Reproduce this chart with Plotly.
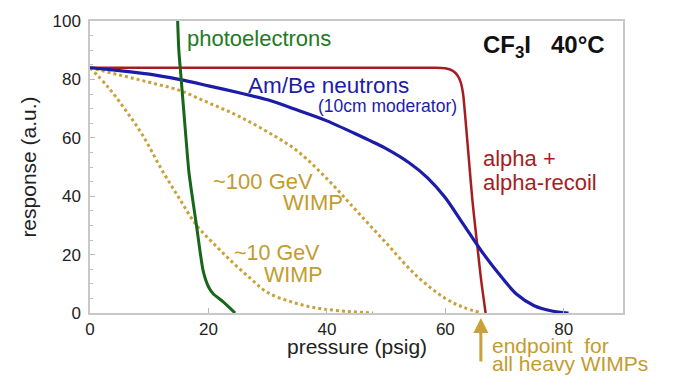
import plotly.graph_objects as go

# Bubble-chamber response vs. operating pressure (CF3I at 40 °C)
pressure_alpha = [0, 58, 60, 61.2, 62, 62.6, 63.0, 63.5, 64.0, 64.6, 65.4, 66.0, 66.8]
response_alpha = [84, 84, 83.8, 83, 81.5, 79, 75, 64, 52, 38, 23, 12, 0]

pressure_neutron = [0, 5, 10, 15, 20, 25, 30, 35, 40, 45, 50, 54, 57, 60, 63, 66, 69, 72, 75, 78, 80.8]
response_neutron = [84, 83, 81.8, 80, 77.8, 75.5, 73, 69.5, 65.8, 61.2, 56.3, 51.3, 46.3, 39.5, 30.5, 21.5, 13.5, 6.5, 2.5, 0.7, 0]

pressure_photo = [14.8, 15.0, 15.4, 16.0, 16.7, 17.4, 18.0, 19.1, 20.0, 20.8, 22.5, 24.5]
response_photo = [100, 90, 80, 65, 48.3, 38, 29.7, 14.5, 9, 6.6, 3.8, 0]

pressure_wimp100 = [0, 5, 10, 15, 20, 25, 30, 35, 40, 45, 50, 55, 60, 63, 66.2]
response_wimp100 = [84, 81.5, 79, 76.3, 72, 67.5, 62, 55.5, 46, 35, 24, 13, 5, 2, 0]

pressure_wimp10 = [0, 3, 6, 9, 12, 15, 18, 21, 24, 27, 30, 34, 38, 42, 47.8]
response_wimp10 = [84, 77.5, 69.5, 60.5, 49.5, 39.5, 30, 23.5, 17.5, 12, 7, 3.8, 1.8, 0.8, 0]

x_ticks = [0, 20, 40, 60, 80]
y_ticks = [0, 20, 40, 60, 80, 100]

RED = "#a51d22"
BLUE = "#1c1ca8"
GREEN = "#17661b"
GOLD = "#c9a13a"
GOLD_TEXT = "#c49b2e"
FONT = "Liberation Sans, Arial, Helvetica, sans-serif"

fig = go.Figure()

fig.add_trace(go.Scatter(x=pressure_wimp100, y=response_wimp100, mode="lines",
                         line=dict(color=GOLD, width=3, dash="dot", shape="spline")))
fig.add_trace(go.Scatter(x=pressure_wimp10, y=response_wimp10, mode="lines",
                         line=dict(color=GOLD, width=3, dash="dot", shape="spline")))
fig.add_trace(go.Scatter(x=pressure_alpha, y=response_alpha, mode="lines",
                         line=dict(color=RED, width=2.5, shape="spline", smoothing=0.6)))
fig.add_trace(go.Scatter(x=pressure_neutron, y=response_neutron, mode="lines",
                         line=dict(color=BLUE, width=3.2, shape="spline", smoothing=0.8)))
fig.add_trace(go.Scatter(x=pressure_photo, y=response_photo, mode="lines",
                         line=dict(color=GREEN, width=3, shape="spline", smoothing=0.6)))


def label(text, x, y, color, size=22, anchor="left", bold=False, yref="y"):
    if bold:
        text = "<b>" + text + "</b>"
    fig.add_annotation(x=x, y=y, xref="x", yref=yref, text=text, showarrow=False,
                       xanchor=anchor, yanchor="middle",
                       font=dict(family=FONT, size=size, color=color))


label("photoelectrons", 16.1, 94.0, "#237a26")
label("Am/Be neutrons", 26.4, 78.0, BLUE, size=22.5)
label("(10cm moderator)", 38.2, 71.0, BLUE, size=17.5)
label("alpha +", 66.1, 53.0, RED)
label("alpha-recoil", 66.1, 44.8, RED)
label("~100 GeV", 20.5, 45.2, GOLD_TEXT, size=22)
label("WIMP", 32.3, 38.0, GOLD_TEXT, size=22)
label("~10 GeV", 24.0, 20.6, GOLD_TEXT, size=21.5)
label("WIMP", 29.0, 13.0, GOLD_TEXT, size=21.5)
label("CF<sub>3</sub>I\u00a0\u00a0\u00a040°C", 76.6, 91.3, "#111111", size=24, anchor="center", bold=True)

# arrow marking the common endpoint of the heavy-WIMP curves (below the axis)
fig.add_annotation(x=66.0, y=-0.017, xref="x", yref="paper", ax=0, ay=45,
                   text="", showarrow=True, arrowhead=2, arrowsize=1.0,
                   arrowwidth=3, arrowcolor=GOLD)
label("endpoint\u00a0\u00a0for", 67.6, -0.112, GOLD_TEXT, size=21, yref="paper")
label("all heavy WIMPs", 67.6, -0.172, GOLD_TEXT, size=21, yref="paper")

# x-axis title placed just under the tick labels
fig.add_annotation(x=0.5, y=-0.115, xref="paper", yref="paper", text="pressure (psig)",
                   showarrow=False, xanchor="center", yanchor="middle",
                   font=dict(family=FONT, size=21, color="#222222"))

fig.update_layout(
    width=681, height=376,
    margin=dict(l=90, r=58, t=17, b=63),
    paper_bgcolor="white", plot_bgcolor="white",
    showlegend=False,
    font=dict(family=FONT, size=17, color="#222222"),
)
fig.update_xaxes(
    range=[0, 90], tickvals=x_ticks, ticks="inside", ticklen=5, tickcolor="#b8b8b8",
    showline=True, mirror=True, linecolor="#c8c8c8", linewidth=1.5,
    showgrid=False, zeroline=False, ticklabelstandoff=0,
)
fig.update_yaxes(
    range=[0, 100], tickvals=y_ticks, ticks="inside", ticklen=5, tickcolor="#b8b8b8",
    minor=dict(dtick=5, ticks="inside", ticklen=3, tickcolor="#c0c0c0"),
    showline=True, mirror=True, linecolor="#c8c8c8", linewidth=1.5,
    showgrid=False, zeroline=False, ticklabelstandoff=4,
    title=dict(text="response (a.u.)", font=dict(size=21), standoff=10),
)

fig.write_html("out.html")
